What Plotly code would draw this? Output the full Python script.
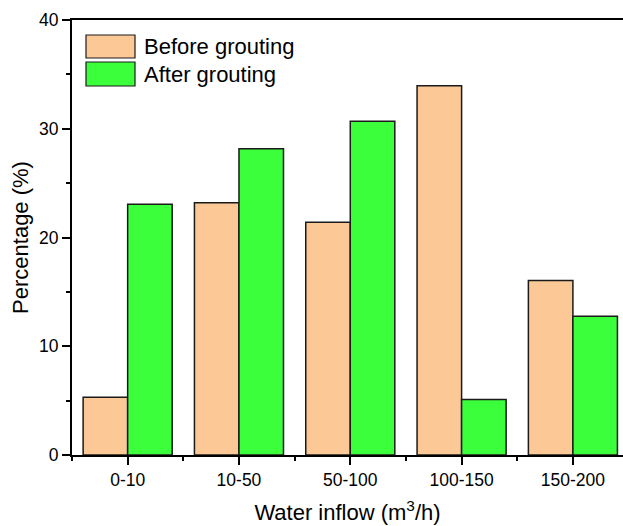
import plotly.graph_objects as go

categories = ["0-10", "10-50", "50-100", "100-150", "150-200"]
before = [5.3, 23.2, 21.4, 33.95, 16.05]
after = [23.05, 28.15, 30.7, 5.1, 12.75]
series_names = ["Before grouting", "After grouting"]
colors = ["#FBC896", "#3CFF3C"]
y_ticks = [0, 10, 20, 30, 40]

FONT = "Arial, Liberation Sans, sans-serif"
x_idx = list(range(len(categories)))

fig = go.Figure()
for name, vals, col in zip(series_names, [before, after], colors):
    fig.add_trace(go.Bar(
        x=x_idx, y=vals, name=name,
        marker=dict(color=col, line=dict(color="#1a1a1a", width=1.5)),
        showlegend=False,
    ))

fig.update_layout(
    width=623, height=526,
    margin=dict(l=72, r=0, t=20, b=71),
    paper_bgcolor="white", plot_bgcolor="white",
    barmode="group", bargap=0.2, bargroupgap=0,
    font=dict(family=FONT, color="black", size=17.5),
)
fig.update_xaxes(
    range=[-0.5, 4.45],
    tickmode="array", tickvals=x_idx, ticktext=categories,
    ticks="outside", ticklen=8, tickwidth=1.5, tickcolor="black",
    minor=dict(ticks="outside", ticklen=4, tickwidth=1.5, tickcolor="black",
               tick0=-0.5, dtick=1),
    showline=True, linewidth=2, linecolor="black", mirror=True,
    showgrid=False, zeroline=False,
    tickfont=dict(size=17.5),
    title=dict(text="Water inflow (m<sup>3</sup>/h)", font=dict(size=22), standoff=16),
)
fig.update_yaxes(
    range=[0, 40],
    tickmode="array", tickvals=y_ticks,
    ticks="outside", ticklen=8, tickwidth=1.5, tickcolor="black",
    minor=dict(ticks="outside", ticklen=4, tickwidth=1.5, tickcolor="black",
               tick0=5, dtick=10),
    showline=True, linewidth=2, linecolor="black", mirror=False,
    showgrid=False, zeroline=False,
    tickfont=dict(size=17.5),
    title=dict(text="Percentage (%)", font=dict(size=22), standoff=4),
)

# custom legend (large swatches like the original)
plot_w, plot_h, x0px, y0px = 551.0, 435.0, 72.0, 455.0
def px(x):
    return (x - x0px) / plot_w
def py(y):
    return (y0px - y) / plot_h

rows = [(35, 58), (62, 86)]
for (top, bot), name, col in zip(rows, series_names, colors):
    fig.add_shape(type="rect", xref="paper", yref="paper",
                  x0=px(86), x1=px(135), y0=py(bot), y1=py(top),
                  fillcolor=col, line=dict(color="#1a1a1a", width=1.2))
    fig.add_annotation(xref="paper", yref="paper", x=px(142), y=py((top + bot) / 2),
                       text=name, showarrow=False, xanchor="left", yanchor="middle",
                       font=dict(size=22, family=FONT, color="black"))

fig.write_html("out.html")
